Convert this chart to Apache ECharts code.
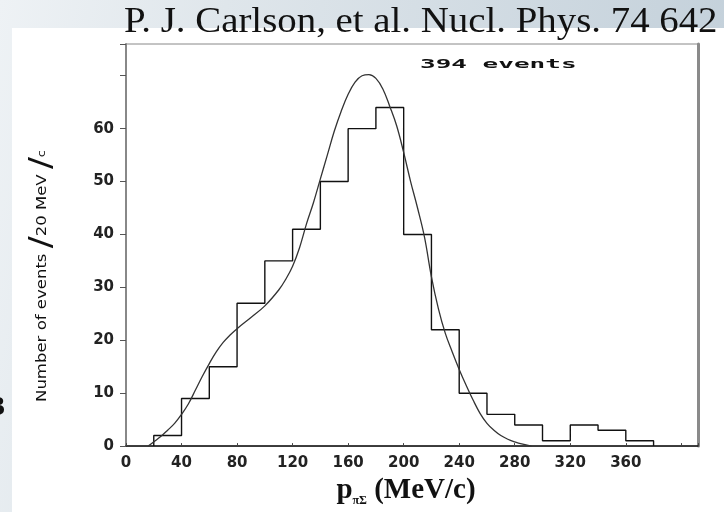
<!DOCTYPE html>
<html>
<head>
<meta charset="utf-8">
<script src="https://cdn.jsdelivr.net/npm/echarts@6/dist/echarts.min.js"></script>
<style>
html,body{margin:0;padding:0;}
#chart{width:724px;height:512px;}
</style>
</head>
<body>
<div id="chart"></div>
<script>
// Histogram: left bin edges (MeV/c), bin width 20, counts per bin
const binLeftEdges = [20,40,60,80,100,120,140,160,180,200,220,240,260,280,300,320,340,360];
const binWidth = 20;
const counts = [2,9,15,27,35,41,50,60,64,40,22,10,6,4,1,4,3,1];

// Fitted curve
const fitX = [16,20,25,30,35,40,45,50,55,60,65,70,75,80,90,100,110,115,120,125,130,135,140,145,150,155,160,165,170,175,180,185,190,195,200,205,210,215,220,225,230,235,240,245,250,255,260,265,270,275,280,285,292];
const fitY = [0,0.8,1.8,3,4.3,6,8,10.6,13.2,15.6,17.8,19.6,21,22.2,24.3,26.5,29.5,31.5,34,37.5,42,46,50.5,55,59.5,63.3,66.5,68.8,70,70.2,69.5,67.5,64.2,60.5,55.5,50,45,39.5,32,26,21.3,17.8,14.5,11.5,8.7,6.2,4.3,3,2,1.3,0.8,0.4,0];

const xTickLabels = ['0','40','80','120','160','200','240','280','320','360'];
const yTickLabels = ['0','10','20','30','40','50','60'];

const titleText = 'P. J. Carlson, et al. Nucl. Phys. 74 642';
const annotation = '394 events';

// build step outline from bins
const stepData = [[binLeftEdges[0], 0]];
binLeftEdges.forEach((e, i) => stepData.push([e, counts[i]]));
const lastEdge = binLeftEdges[binLeftEdges.length - 1] + binWidth;
stepData.push([lastEdge, counts[counts.length - 1]]);
stepData.push([lastEdge, 0]);

const fitData = fitX.map((x, i) => [x, fitY[i]]);

const chart = echarts.init(document.getElementById('chart'), null, {renderer: 'canvas'});
const labelFont = {fontFamily: 'DejaVu Sans', fontWeight: 'bold', fontSize: 15, color: '#222'};

chart.setOption({
  animation: false,
  backgroundColor: {
    type: 'linear', x: 0, y: 0, x2: 1, y2: 0.3,
    colorStops: [
      {offset: 0, color: '#eef2f5'},
      {offset: 0.3, color: '#dfe6eb'},
      {offset: 1, color: '#c3d0da'}
    ]
  },
  graphic: [
    {type: 'rect', silent: true, z: -100, shape: {x: 12, y: 28, width: 712, height: 484}, style: {fill: '#ffffff'}},
    {type: 'text', silent: true, x: -9, y: 394, style: {text: '3', font: 'bold 28px "Liberation Serif"', fill: '#111'}},
    {type: 'text', silent: true, z: 10, x: 124, y: 5, scaleX: 1.11,
      style: {text: titleText, font: '35px "Liberation Serif"', fill: '#111'}},
    {type: 'text', silent: true, x: 420, y: 58, scaleX: 2.0,
      style: {text: annotation, font: 'bold 13px "DejaVu Sans Mono"', fill: '#111'}},
    {type: 'text', silent: true, x: 42, y: 276, rotation: Math.PI / 2, scaleX: 1.18,
      style: {
        text: '{a|Number of events }{s|/}{a|20 MeV }{s|/}{c|c}',
        align: 'center', verticalAlign: 'middle', textAlign: 'center', textVerticalAlign: 'middle',
        rich: {
          a: {fontFamily: 'DejaVu Sans', fontSize: 14, fill: '#111', color: '#111'},
          s: {fontFamily: 'DejaVu Sans', fontSize: 30, fill: '#111', color: '#111'},
          c: {fontFamily: 'DejaVu Sans', fontSize: 11, fill: '#111', color: '#111'}
        }
      }}
  ],
  grid: {left: 126, right: 26, top: 44, bottom: 59, show: true, borderColor: '#888', borderWidth: 1, backgroundColor: 'transparent'},
  xAxis: {
    type: 'value', min: 0, max: 412, interval: 40,
    axisLine: {show: true, lineStyle: {color: '#111', width: 1.5}},
    axisTick: {show: true, inside: true, length: 3, lineStyle: {color: '#444'}},
    axisLabel: Object.assign({margin: 10, formatter: v => xTickLabels.includes(String(v)) ? String(v) : ''}, labelFont),
    splitLine: {show: false},
    name: '{p|p}{s|πΣ}{m| (MeV/c)}',
    nameLocation: 'middle', nameGap: 22,
    nameTextStyle: {
      padding: [0, 12, 0, 0],
      rich: {
        p: {fontFamily: 'Liberation Serif', fontWeight: 'bold', fontSize: 29, color: '#111', verticalAlign: 'top'},
        s: {fontFamily: 'Liberation Serif', fontWeight: 'bold', fontSize: 12, color: '#111', verticalAlign: 'top', padding: [19, 0, 0, 0]},
        m: {fontFamily: 'Liberation Serif', fontWeight: 'bold', fontSize: 29, color: '#111', verticalAlign: 'top'}
      }
    }
  },
  yAxis: [{
    type: 'value', min: 0, max: 76, interval: 10,
    axisLine: {show: true, lineStyle: {color: '#888', width: 2}},
    axisTick: {show: true, inside: false, length: 6, lineStyle: {color: '#555'}},
    axisLabel: Object.assign({margin: 12, formatter: v => yTickLabels.includes(String(v)) ? String(v) : ''}, labelFont),
    splitLine: {show: false}
  }, {
    type: 'value', position: 'right', min: 0, max: 76,
    axisLine: {show: true, lineStyle: {color: '#8a8a8a', width: 3}},
    axisTick: {show: false}, axisLabel: {show: false}, splitLine: {show: false}
  }],
  series: [
    {
      type: 'line', name: 'histogram', step: 'end', data: stepData,
      showSymbol: false, symbol: 'none',
      lineStyle: {color: '#111', width: 1.4}
    },
    {
      type: 'line', name: 'fit', smooth: 0.4, data: fitData,
      showSymbol: false, symbol: 'none',
      lineStyle: {color: '#333', width: 1.3}
    }
  ]
});
</script>
</body>
</html>
